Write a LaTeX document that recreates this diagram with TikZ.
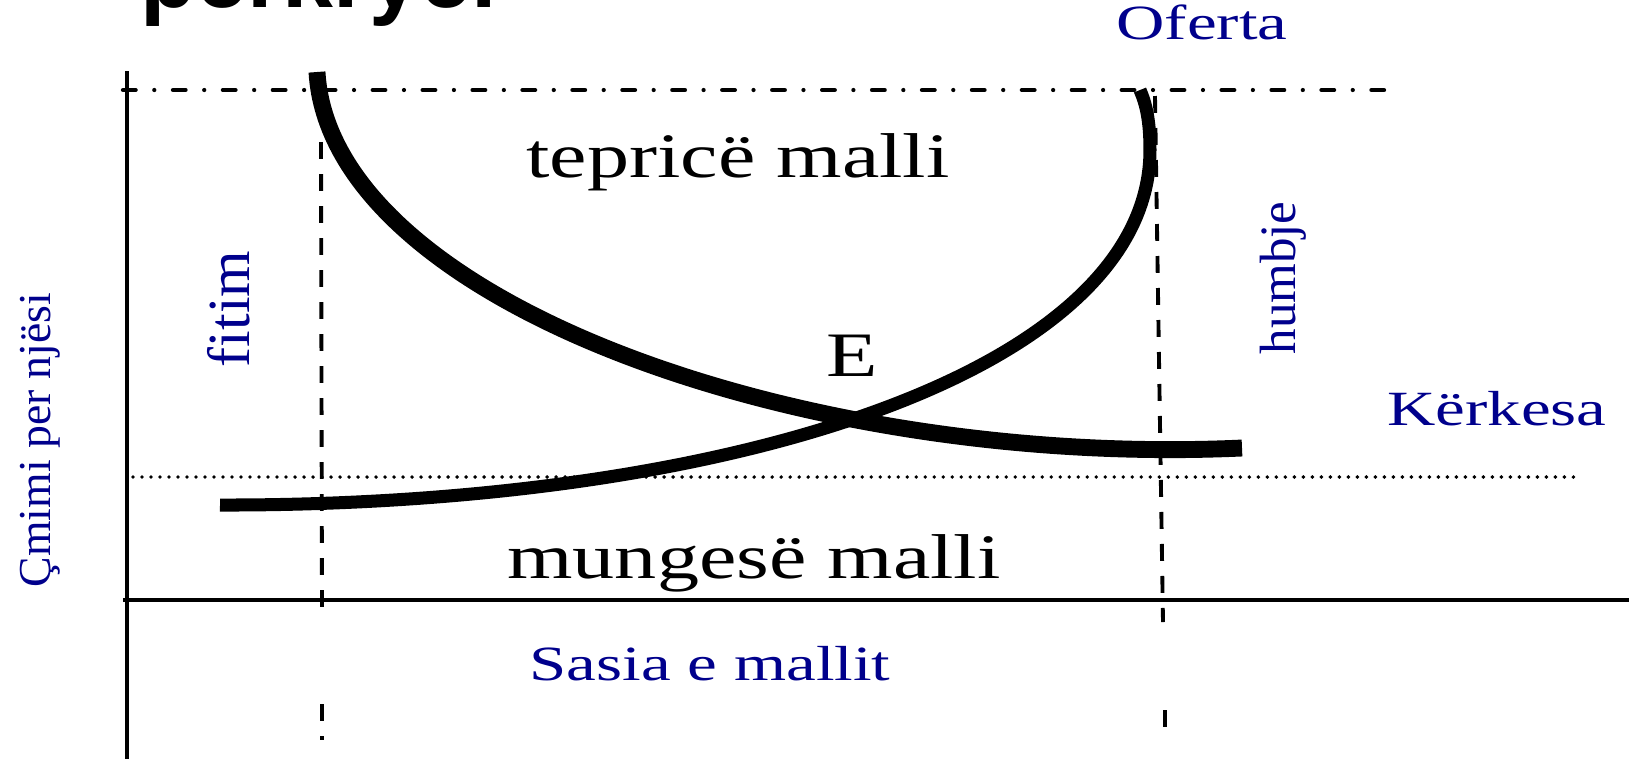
\documentclass[tikz,border=0pt]{standalone}
\usepackage{fontspec}
\setmainfont{Liberation Serif}
\newfontfamily\headfont{Liberation Sans}
\usetikzlibrary{positioning}
\definecolor{navyblue}{RGB}{0,0,140}

\begin{document}
\begin{tikzpicture}[x=0.01cm, y=-0.01cm,
  axisline/.style={line width=1.1pt},
  guideline/.style={line width=1.1pt, dash pattern=on 4.8pt off 4.3pt},
  bigtext/.style={font=\fontsize{18pt}{20pt}\selectfont, inner sep=0pt, anchor=base, xscale=1.33},
  bluetext/.style={text=navyblue, font=\fontsize{14pt}{16pt}\selectfont, inner sep=0pt, anchor=base, xscale=1.36},
  sidetext/.style={text=navyblue, inner sep=0pt, anchor=base, rotate=90}]
  \useasboundingbox (0,0) rectangle (1629,759);

  % title, only its lower part is on the page
  \node[anchor=base west, inner sep=0pt, font=\headfont\bfseries\fontsize{26pt}{28pt}\selectfont] (title) at (140,7) {përkryer};

  % axes
  \coordinate (origin) at (127,600);
  \draw[axisline] (127,71) -- (127,759);
  \draw[axisline] (123,600) -- (1629,600);

  % price levels
  \draw[line width=1.2pt, line cap=round, dash pattern=on 3.6pt off 5.3pt on 0pt off 5.3pt] (123,90) -- (1390,90);
  \draw[line width=1.1pt, line cap=round, dash pattern=on 0pt off 2.56pt] (133,477) -- (1579,477);

  % quantities
  \draw[guideline] (321,142) -- (322,618);
  \draw[guideline] (322,704) -- (322,740);
  \draw[guideline] (1155,96) -- (1163,622);
  \draw[guideline] (1165,710) -- (1165,728);

  % demand and supply
  \draw[line width=4.8pt] (317,72) .. controls (330,300) and (800,468) .. (1242,448);
  \draw[line width=3.7pt] (220,505) .. controls (740,506) and (1150,368) .. (1150,150)
    .. controls (1150,120) and (1146,104) .. (1140,90);

  % labels
  \node[bigtext] (surplus) at (738,177) {tepricë malli};
  \node[bigtext] (shortage) at (754,578) {mungesë malli};
  \node[bigtext] (eq) at (852,376) {E};
  \node[bluetext] (supply) at (1202,39) {Oferta};
  \node[bluetext] (demand) at (1497,425) {Kërkesa};
  \node[bluetext] (qty) at (710,680) {Sasia e mallit};
  \node[sidetext, font=\fontsize{13pt}{15pt}\selectfont] (price) at (51,440) {Çmimi per njësi};
  \node[sidetext, font=\fontsize{17pt}{19pt}\selectfont] (gain) at (249,309) {fitim};
  \node[sidetext, font=\fontsize{14.5pt}{16pt}\selectfont] (loss) at (1295,278) {humbje};
\end{tikzpicture}
\end{document}
